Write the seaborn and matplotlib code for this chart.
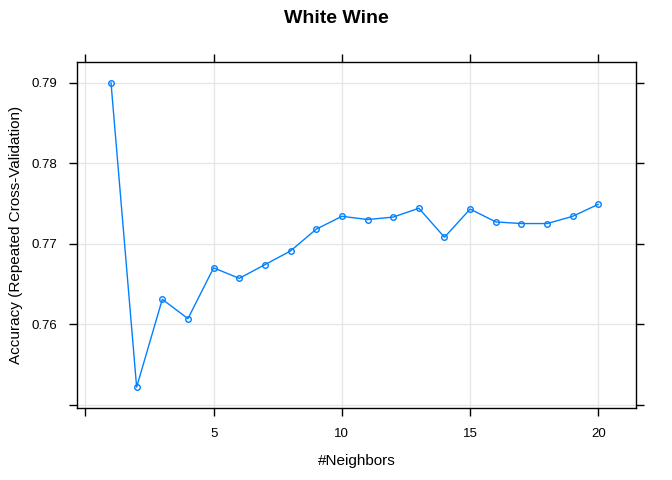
import matplotlib
matplotlib.use("Agg")
from matplotlib import pyplot as plt
import seaborn as sns
import pandas as pd

# valores (caret, kNN)
neighbors = list(range(1, 21))
accuracy = [0.7900, 0.7522, 0.7631, 0.7607, 0.7670, 0.7657, 0.7674, 0.7691, 0.7718, 0.7734,
            0.7730, 0.7733, 0.7744, 0.7708, 0.7743, 0.7727, 0.7725, 0.7725, 0.7734, 0.7749]
x_ticks = [0, 5, 10, 15, 20]
x_labels = ["", "5", "10", "15", "20"]
y_ticks = [0.75, 0.76, 0.77, 0.78, 0.79]
y_labels = ["", "0.76", "0.77", "0.78", "0.79"]


def main():
    tabela = pd.DataFrame({"k": neighbors, "acc": accuracy})
    sns.set_theme(style="white")
    plt.rcParams['font.family'] = ['Liberation Sans', 'DejaVu Sans']
    plt.rcParams['text.color'] = 'black'
    plt.rcParams['axes.labelcolor'] = 'black'
    plt.rcParams['xtick.color'] = 'black'
    plt.rcParams['ytick.color'] = 'black'

    fig = plt.figure(figsize=(6.72, 4.8), dpi=100)
    ax = fig.add_axes([0.114, 0.149, 0.833, 0.722])

    for x in x_ticks:
        ax.axvline(x, color="#e6e6e6", lw=0.9, zorder=0)
    for y in y_ticks:
        ax.axhline(y, color="#e6e6e6", lw=0.9, zorder=0)

    sns.lineplot(data=tabela, x="k", y="acc", ax=ax, color="#0080ff", lw=1.0,
                 marker="o", markersize=4, markerfacecolor="none",
                 markeredgecolor="#0080ff", markeredgewidth=1.0)

    ax.set_xlim(-0.34, 21.48)
    ax.set_ylim(0.74955, 0.79256)
    ax.set_xticks(x_ticks)
    ax.set_xticklabels(x_labels)
    ax.set_yticks(y_ticks)
    ax.set_yticklabels(y_labels)
    ax.tick_params(axis="both", which="both", direction="out", length=6, width=1,
                   color="black", labelcolor="black", labelsize=9.5, top=True, right=True,
                   bottom=True, left=True, pad=8)
    for s in ax.spines.values():
        s.set_color("black")
        s.set_linewidth(1.0)

    ax.set_xlabel("#Neighbors", fontsize=11, labelpad=10)
    ax.set_ylabel("Accuracy (Repeated Cross-Validation)", fontsize=11, labelpad=6)
    fig.suptitle("White Wine", fontsize=14, fontweight="bold", y=0.98, color="black")

    fig.savefig("out.png", dpi=100)


if __name__ == "__main__":
    main()
